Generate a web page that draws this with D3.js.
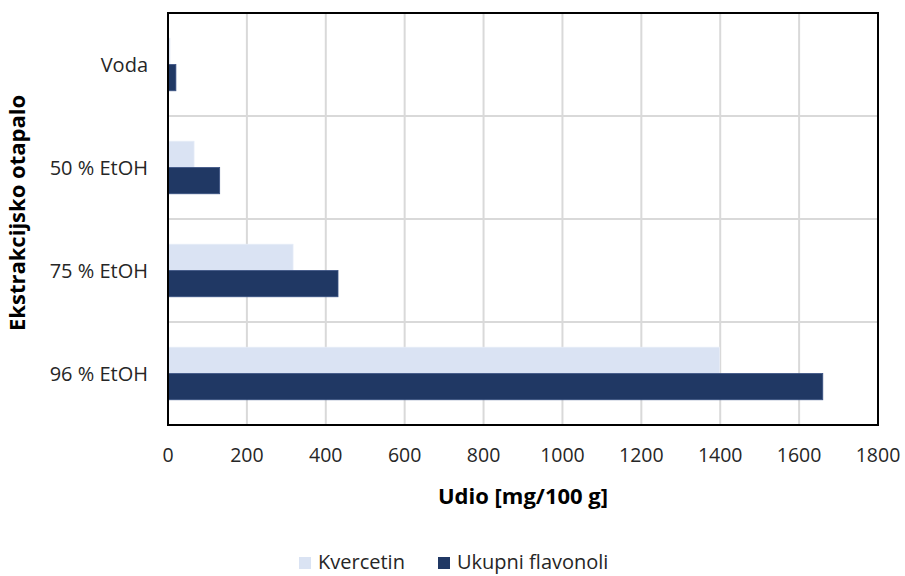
<!DOCTYPE html>
<html>
<head>
<meta charset="utf-8">
<script src="https://cdn.jsdelivr.net/npm/d3@7"></script>
<style>
  body { margin: 0; background: #fff; }
  text { font-family: "Open Sans", Lato, sans-serif; }
</style>
</head>
<body>
<svg id="chart" width="905" height="576"></svg>
<script>
const categories = ["Voda", "50 % EtOH", "75 % EtOH", "96 % EtOH"];
const seriesNames = ["Kvercetin", "Ukupni flavonoli"];
const kvercetin = [5, 66, 317, 1398];
const ukupni = [20, 131, 431, 1660];
const xTicks = [0, 200, 400, 600, 800, 1000, 1200, 1400, 1600, 1800];

const colors = ["#DAE3F3", "#203864"];
const margin = { top: 13, right: 27, bottom: 151, left: 168 };
const width = 905 - margin.left - margin.right;
const height = 576 - margin.top - margin.bottom;

const svg = d3.select("#chart");
const g = svg.append("g").attr("transform", `translate(${margin.left},${margin.top})`);

const x = d3.scaleLinear().domain([0, 1800]).range([0, width]);
const y = d3.scaleBand().domain(categories).range([0, height]).paddingInner(0.49).paddingOuter(0.245);
const ySub = d3.scaleBand().domain(seriesNames).range([0, y.bandwidth()]);

// grid
g.selectAll(".vgrid")
  .data(xTicks.slice(1, -1))
  .enter()
  .append("line")
  .attr("x1", (d) => x(d))
  .attr("x2", (d) => x(d))
  .attr("y1", 0)
  .attr("y2", height)
  .attr("stroke", "#d9d9d9")
  .attr("stroke-width", 2);

const bandEdges = categories.slice(1).map((c) => y(c) - (y.step() * y.paddingInner()) / 2);
g.selectAll(".hgrid")
  .data(bandEdges)
  .enter()
  .append("line")
  .attr("x1", 0)
  .attr("x2", width)
  .attr("y1", (d) => d)
  .attr("y2", (d) => d)
  .attr("stroke", "#d9d9d9")
  .attr("stroke-width", 2);

const rows = categories.map((c, i) => ({ cat: c, vals: [kvercetin[i], ukupni[i]] }));

rows.forEach((row) => {
  g.selectAll(null)
    .data(row.vals)
    .enter()
    .append("rect")
    .attr("x", x(0))
    .attr("y", (d, i) => y(row.cat) + ySub(seriesNames[i]))
    .attr("width", (d) => x(d) - x(0))
    .attr("height", ySub.bandwidth())
    .attr("fill", (d, i) => colors[i])
    .attr("stroke", (d, i) => (i === 0 ? "#e6ecf7" : "#3a5283"))
    .attr("stroke-width", 0.8);
});

// frame
g.append("rect")
  .attr("width", width)
  .attr("height", height)
  .attr("fill", "none")
  .attr("stroke", "#000")
  .attr("stroke-width", 2);

// x tick labels
g.selectAll(".xt")
  .data(xTicks)
  .enter()
  .append("text")
  .attr("x", (d) => x(d))
  .attr("y", height + 37)
  .attr("text-anchor", "middle")
  .attr("font-size", 19.5)
  .attr("fill", "#262626")
  .text((d) => d);

// y labels
g.selectAll(".yt")
  .data(categories)
  .enter()
  .append("text")
  .attr("x", -20)
  .attr("y", (d) => y(d) + y.bandwidth() / 2)
  .attr("dy", "0.35em")
  .attr("text-anchor", "end")
  .attr("font-size", 20)
  .attr("fill", "#262626")
  .text((d) => d);

// axis titles
svg.append("text")
  .attr("x", 523)
  .attr("y", 504)
  .attr("text-anchor", "middle")
  .attr("font-size", 22)
  .attr("font-weight", "bold")
  .attr("fill", "#000")
  .text("Udio [mg/100 g]");

svg.append("text")
  .attr("transform", "translate(25,213) rotate(-90)")
  .attr("text-anchor", "middle")
  .attr("font-size", 22)
  .attr("font-weight", "bold")
  .attr("fill", "#000")
  .text("Ekstrakcijsko otapalo");

// legend
const legend = svg.append("g").attr("transform", "translate(299,562)");
const legX = [0, 139];
seriesNames.forEach((s, i) => {
  legend.append("rect")
    .attr("x", legX[i])
    .attr("y", -5)
    .attr("width", 12)
    .attr("height", 12)
    .attr("fill", colors[i]);
  legend.append("text")
    .attr("x", legX[i] + 19)
    .attr("y", 0)
    .attr("dy", "0.35em")
    .attr("font-size", 20)
    .attr("fill", "#262626")
    .text(s);
});
</script>
</body>
</html>
